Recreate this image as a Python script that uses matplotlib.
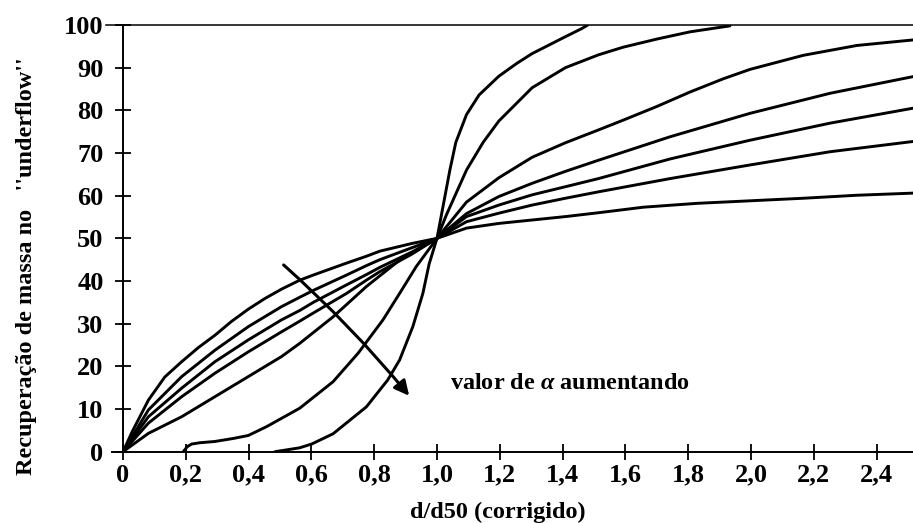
import matplotlib
matplotlib.use("Agg")
import matplotlib.pyplot as plt

plt.rcParams['font.family'] = ['Liberation Serif', 'DejaVu Serif']
plt.rcParams['font.weight'] = 'bold'
plt.rcParams['mathtext.fontset'] = 'custom'
plt.rcParams['mathtext.it'] = 'Liberation Serif:italic:bold'
plt.rcParams['mathtext.rm'] = 'Liberation Serif:bold'

# Curvas (alfa crescente de A para G)
xa = [0, 0.03, 0.081, 0.133, 0.187, 0.24, 0.293, 0.345, 0.399, 0.452, 0.505, 0.563, 0.606,
      0.712, 0.775, 0.818, 0.92, 1.0, 1.094, 1.197, 1.303, 1.409, 1.514, 1.657, 1.827,
      1.997, 2.167, 2.337, 2.516]
ya = [0, 4.8, 12.1, 17.5, 21.1, 24.4, 27.3, 30.5, 33.4, 35.9, 38.1, 40.2, 41.4,
      44.2, 45.8, 47.0, 48.8, 50, 52.4, 53.5, 54.3, 55.1, 56.0, 57.3, 58.2,
      58.8, 59.4, 60.1, 60.6]

xb = [0, 0.081, 0.187, 0.293, 0.399, 0.505, 0.563, 0.606, 0.712, 0.775, 0.818, 0.92, 1.0,
      1.094, 1.197, 1.303, 1.409, 1.514, 1.742, 1.997, 2.252, 2.516]
yb = [0, 9.8, 17.6, 23.8, 29.3, 34.0, 36.2, 37.8, 41.4, 43.6, 45.0, 47.8, 50,
      53.9, 55.9, 57.8, 59.4, 60.9, 64.0, 67.2, 70.3, 72.7]

xc = [0, 0.081, 0.187, 0.293, 0.399, 0.505, 0.563, 0.606, 0.712, 0.775, 0.818, 0.92, 1.0,
      1.094, 1.197, 1.303, 1.409, 1.514, 1.742, 1.997, 2.252, 2.516]
yc = [0, 8.2, 14.9, 21.1, 26.2, 30.9, 33.1, 35.0, 39.1, 41.5, 43.2, 46.8, 50,
      55.1, 57.8, 60.2, 62.1, 64.0, 68.6, 73.0, 77.0, 80.5]

xd = [0, 0.081, 0.187, 0.293, 0.399, 0.505, 0.563, 0.606, 0.712, 0.775, 0.818, 0.92, 1.0,
      1.094, 1.197, 1.303, 1.409, 1.514, 1.742, 1.997, 2.252, 2.516]
yd = [0, 6.7, 12.9, 18.4, 23.4, 28.1, 30.6, 32.5, 37.1, 40.2, 42.2, 46.3, 50,
      55.8, 59.8, 62.9, 65.7, 68.3, 73.8, 79.3, 84.0, 87.9]

xe = [0, 0.081, 0.187, 0.293, 0.399, 0.505, 0.563, 0.669, 0.775, 0.881, 1.0,
      1.094, 1.197, 1.303, 1.409, 1.514, 1.593, 1.7, 1.806, 1.912, 1.997, 2.167, 2.337, 2.516]
ye = [0, 4.3, 8.2, 12.9, 17.6, 22.3, 25.4, 31.6, 38.7, 44.9, 50,
      58.5, 64.2, 69.0, 72.4, 75.4, 77.7, 80.9, 84.3, 87.4, 89.6, 92.9, 95.2, 96.5]

xf = [0.192, 0.205, 0.219, 0.245, 0.293, 0.351, 0.399, 0.458, 0.563, 0.669, 0.749, 0.828,
      0.881, 0.934, 1.0, 1.03, 1.094, 1.147, 1.197, 1.303, 1.409, 1.514, 1.593, 1.7, 1.806, 1.933]
yf = [0, 1.2, 1.8, 2.1, 2.4, 3.1, 3.8, 5.9, 10.2, 16.4, 23.1, 30.9,
      37.1, 43.4, 50, 55.5, 66.0, 72.5, 77.5, 85.3, 90.0, 93.0, 94.8, 96.7, 98.4, 99.8]

xg = [0.484, 0.562, 0.601, 0.669, 0.775, 0.843, 0.881, 0.923, 0.955, 0.975, 1.0,
      1.018, 1.041, 1.06, 1.094, 1.134, 1.197, 1.254, 1.303, 1.402, 1.462, 1.48]
yg = [0, 0.9, 1.8, 4.2, 10.5, 16.8, 21.5, 29.3, 37.1, 44.0, 50,
      57.0, 66.0, 72.5, 79.0, 83.6, 88.0, 91.0, 93.3, 97.0, 99.2, 100]

curvas = [(xa, ya), (xb, yb), (xc, yc), (xd, yd), (xe, ye), (xf, yf), (xg, yg)]

xticks = [0, 0.2, 0.4, 0.6, 0.8, 1.0, 1.2, 1.4, 1.6, 1.8, 2.0, 2.2, 2.4]
xticklabels = ['0', '0,2', '0,4', '0,6', '0,8', '1,0', '1,2', '1,4', '1,6', '1,8', '2,0', '2,2', '2,4']
yticks = [0, 10, 20, 30, 40, 50, 60, 70, 80, 90, 100]

fig = plt.figure(figsize=(9.13, 5.23), dpi=100)
ax = fig.add_axes([123 / 913, 71.3 / 523, 790 / 913, 426.7 / 523])

for x, y in curvas:
    ax.plot(x, y, color='black', lw=2.1, solid_capstyle='round', solid_joinstyle='round')

ax.set_xlim(0, 2.516)
ax.set_ylim(0, 100)

ax.spines['right'].set_visible(False)
for s in ['left', 'bottom', 'top']:
    ax.spines[s].set_linewidth(1.4)
ax.spines['top'].set_linewidth(1.1)
ax.spines['left'].set_bounds(0, 100)
ax.spines['bottom'].set_bounds(-0.035, 2.516)
ax.spines['top'].set_bounds(-0.055, 2.516)

ax.set_xticks(xticks)
ax.set_xticklabels(xticklabels)
ax.set_yticks(yticks)
ax.tick_params(axis='both', direction='inout', width=1.3, labelsize=19)
ax.tick_params(axis='x', length=11, pad=3)
ax.tick_params(axis='y', length=12, pad=8)
ax.tick_params(axis='x', top=False)

# seta e texto
ax.annotate('', xy=(0.917, 12.6), xytext=(0.505, 44.2),
            arrowprops=dict(arrowstyle='-|>', lw=2.2, color='black', mutation_scale=22,
                            connectionstyle='arc3,rad=-0.04'))
ax.text(1.04, 16.1, 'valor de $\\alpha$ aumentando', fontsize=17.5, fontweight='bold', va='center')

fig.text(498 / 913, 1 - 512 / 523, 'd/d50 (corrigido)', fontsize=17.5, fontweight='bold',
         ha='center', va='center')
fig.text(27 / 913, 1 - 266 / 523, "Recuperação de massa no   ''underflow''", fontsize=17.5,
         fontweight='bold', rotation=90, ha='center', va='center')

fig.savefig('out.png', dpi=100)
